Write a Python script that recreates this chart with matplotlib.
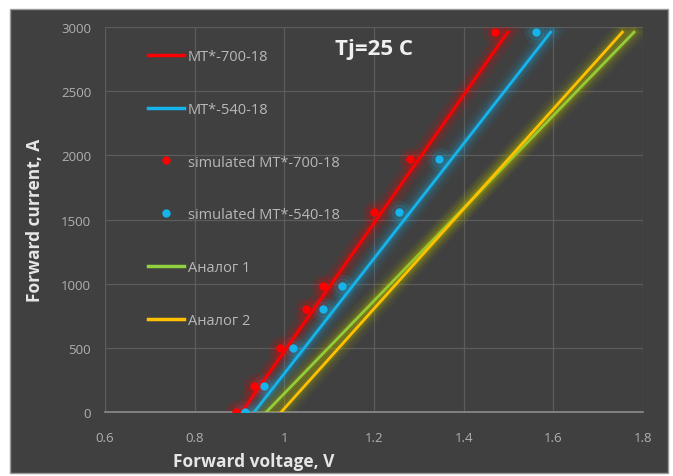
import matplotlib
matplotlib.use("Agg")
import matplotlib.pyplot as plt
import matplotlib.patheffects as pe
from matplotlib.patches import Rectangle
from matplotlib.lines import Line2D

# data
line_current = [0, 2960]
v_mt700 = [0.905, 1.498]
v_mt540 = [0.933, 1.594]
v_analog1 = [0.960, 1.780]
v_analog2 = [0.993, 1.754]

sim_current = [0, 200, 500, 800, 980, 1560, 1970, 2960]
sim_v_mt700 = [0.893, 0.932, 0.990, 1.048, 1.086, 1.199, 1.280, 1.471]
sim_v_mt540 = [0.912, 0.954, 1.020, 1.087, 1.128, 1.255, 1.344, 1.561]

xticks = [0.6, 0.8, 1, 1.2, 1.4, 1.6, 1.8]
xtick_labels = ["0.6", "0.8", "1", "1.2", "1.4", "1.6", "1.8"]
yticks = [0, 500, 1000, 1500, 2000, 2500, 3000]

bg = "#404040"
red = "#ff0000"
blue = "#16b4ec"
green = "#8fd13f"
yellow = "#ffc000"

plt.rcParams['font.family'] = ['Open Sans', 'DejaVu Sans']

fig = plt.figure(figsize=(6.73, 4.77), dpi=100, facecolor="white")
fig.patches.append(Rectangle((10 / 673, 3 / 477), 658 / 673, 464 / 477,
                             transform=fig.transFigure, facecolor=bg,
                             edgecolor="#9a9a9a", linewidth=1, zorder=-10))

ax = fig.add_axes([105 / 673, 64 / 477, 538 / 673, 385 / 477])
ax.set_facecolor(bg)


def glow(color, width):
    return [pe.Stroke(linewidth=width + 14, foreground=color, alpha=0.05),
            pe.Stroke(linewidth=width + 10, foreground=color, alpha=0.07),
            pe.Stroke(linewidth=width + 6, foreground=color, alpha=0.1),
            pe.Stroke(linewidth=width + 3, foreground=color, alpha=0.15),
            pe.Normal()]


handles = []
for v, c, lab in [(v_mt700, red, "MT*-700-18"),
                  (v_mt540, blue, "MT*-540-18")]:
    ax.plot(v, line_current, color=c, lw=2, zorder=3, path_effects=glow(c, 2))
    handles.append(Line2D([], [], color=c, lw=2.5, label=lab))

for v, c, lab in [(sim_v_mt700, red, "simulated MT*-700-18"),
                  (sim_v_mt540, blue, "simulated MT*-540-18")]:
    ax.plot(v, sim_current, "o", color=c, ms=16, alpha=0.08, zorder=2)
    ax.plot(v, sim_current, "o", color=c, ms=11, alpha=0.12, zorder=2)
    ax.plot(v, sim_current, "o", color=c, ms=5, zorder=4)
    handles.append(Line2D([], [], color=c, marker="o", ms=5, lw=0, label=lab))

for v, c, lab in [(v_analog1, green, "Аналог 1"),
                  (v_analog2, yellow, "Аналог 2")]:
    ax.plot(v, line_current, color=c, lw=2, zorder=3,
            path_effects=glow("#b5b800", 2))
    handles.append(Line2D([], [], color=c, lw=2.5, label=lab))

ax.set_xlim(0.6, 1.8)
ax.set_ylim(0, 3000)
ax.set_xticks(xticks)
ax.set_xticklabels(xtick_labels)
ax.set_yticks(yticks)
ax.grid(True, color="#5c5c5c", lw=0.9)
ax.set_axisbelow(True)
for s in ["top", "right", "left"]:
    ax.spines[s].set_visible(False)
ax.spines["bottom"].set_color("#8c8c8c")
ax.spines["bottom"].set_linewidth(1.2)
ax.tick_params(length=0, colors="#b0b0b0", labelsize=9.5, pad=10)
ax.tick_params(axis="x", pad=14)

ax.set_xlabel("Forward voltage, V", color="#e6e6e6", fontsize=12.5,
              fontweight="bold")
ax.xaxis.set_label_coords(0.277, -0.103)
ax.set_ylabel("Forward current, A", color="#e6e6e6", fontsize=12.5,
              fontweight="bold", labelpad=12)

ax.text(0.5, 0.945, "Tj=25 C", transform=ax.transAxes, color="#f0f0f0",
        fontsize=16, fontweight="bold", ha="center", va="center")

leg = ax.legend(handles=handles, loc="upper left",
                bbox_to_anchor=(0.055, 0.977), frameon=False,
                labelspacing=2.59, handlelength=2.5, handletextpad=0.25,
                fontsize=10.5)
for t in leg.get_texts():
    t.set_color("#b8b8b8")

fig.savefig("out.png", dpi=100, facecolor="white")
